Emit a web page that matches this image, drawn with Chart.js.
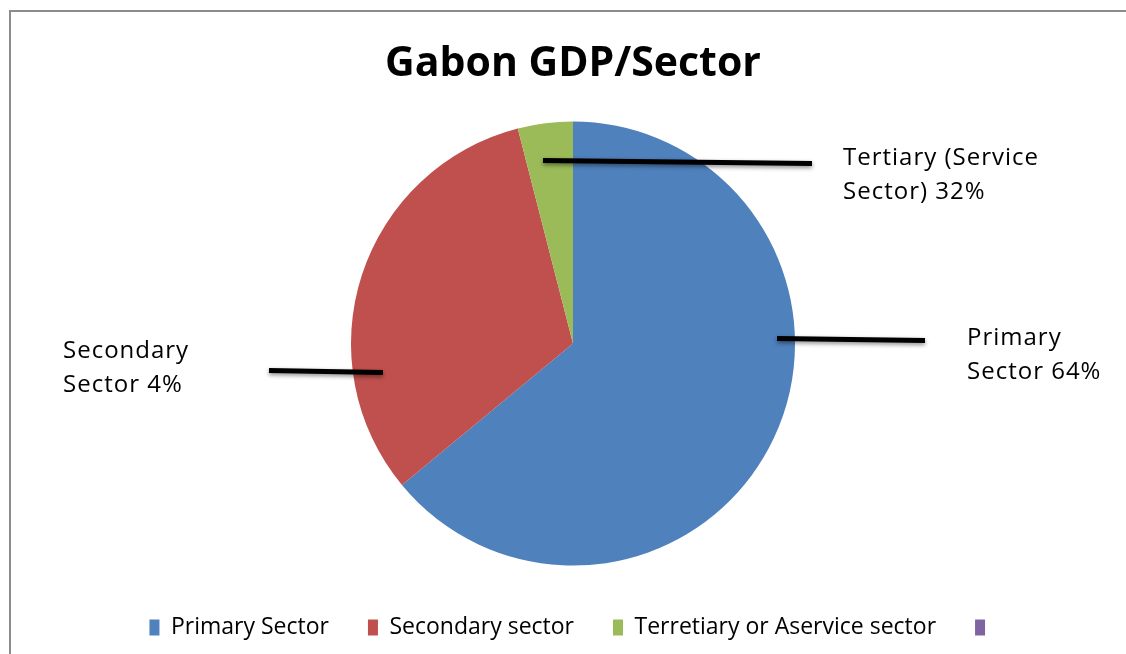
<!DOCTYPE html>
<html>
<head>
<meta charset="utf-8">
<script src="https://cdn.jsdelivr.net/npm/chart.js@4.4.0/dist/chart.umd.min.js"></script>
<style>
  body { margin: 0; background: #fff; }
  canvas { display: block; }
</style>
</head>
<body>
<canvas id="gdpChart" width="1126" height="654"></canvas>
<script>
// data
var sectors = ['Primary Sector', 'Secondary sector', 'Terretiary or Aservice sector', ''];
var shares = [64, 32, 4, 0];
var sliceColors = ['#4F81BD', '#C0504D', '#9BBB59', '#8064A2'];

// callout texts as they appear on the chart
var calloutTexts = [
    ['Primary', 'Sector 64%'],
    ['Secondary', 'Sector 4%'],
    ['Tertiary (Service', 'Sector) 32%']
];

var fontFam = '"Open Sans", "Noto Sans", sans-serif';

// frame line round the chart
var framePlugin = {
    id: 'frame',
    beforeDraw: function (chart) {
        var c = chart.ctx;
        c.save();
        c.fillStyle = '#fff';
        c.fillRect(0, 0, chart.width, chart.height);
        c.strokeStyle = '#8c8c8c';
        c.lineWidth = 2;
        c.strokeRect(10, 11, chart.width + 20, chart.height + 20);
        c.restore();
    }
};

// leader lines and callout labels, placed relative to the pie
var calloutPlugin = {
    id: 'callouts',
    afterDatasetsDraw: function (chart) {
        var arc = chart.getDatasetMeta(0).data[0];
        var cx = arc.x, cy = arc.y, k = arc.outerRadius / 222;
        var c = chart.ctx;
        // [line x1, y1, x2, y2, text x, first line y] as offsets from centre
        var spots = [
            [204, -5, 352, -3, 394, -5],
            [-304, 27, -190, 29, -510, 8],
            [-30, -183, 239, -180, 270, -185]
        ];
        c.save();
        spots.forEach(function (s, i) {
            c.shadowColor = 'rgba(0,0,0,0.45)';
            c.shadowBlur = 4;
            c.shadowOffsetY = 2;
            c.strokeStyle = '#000';
            c.lineWidth = 5;
            c.beginPath();
            c.moveTo(cx + s[0] * k, cy + s[1] * k);
            c.lineTo(cx + s[2] * k, cy + s[3] * k);
            c.stroke();
            c.shadowColor = 'transparent';
            c.fillStyle = '#000';
            c.font = '24px ' + fontFam;
            c.letterSpacing = '1px';
            c.textAlign = 'left';
            c.textBaseline = 'middle';
            calloutTexts[i].forEach(function (t, j) {
                c.fillText(t, cx + s[4] * k, cy + s[5] * k + j * 34);
            });
        });
        c.restore();
    }
};

var ctx = document.getElementById('gdpChart').getContext('2d');
var gdpChart = new Chart(ctx, {
    type: 'pie',
    data: {
        labels: sectors,
        datasets: [{
            data: shares,
            backgroundColor: sliceColors,
            borderWidth: 0,
            radius: 222
        }]
    },
    options: {
        responsive: false,
        animation: false,
        devicePixelRatio: 1,
        layout: { padding: { left: 20, right: 0, top: 0, bottom: 5 } },
        plugins: {
            title: {
                display: true,
                text: 'Gabon GDP/Sector',
                color: '#000',
                font: { family: fontFam, size: 41, weight: 'bold', lineHeight: 1.2 },
                padding: { top: 40, bottom: 21 }
            },
            legend: {
                position: 'bottom',
                labels: {
                    color: '#000',
                    boxWidth: 10,
                    boxHeight: 16,
                    padding: 39,
                    font: { family: fontFam, size: 23 }
                }
            },
            tooltip: { enabled: false }
        }
    },
    plugins: [framePlugin, calloutPlugin]
});
</script>
</body>
</html>
